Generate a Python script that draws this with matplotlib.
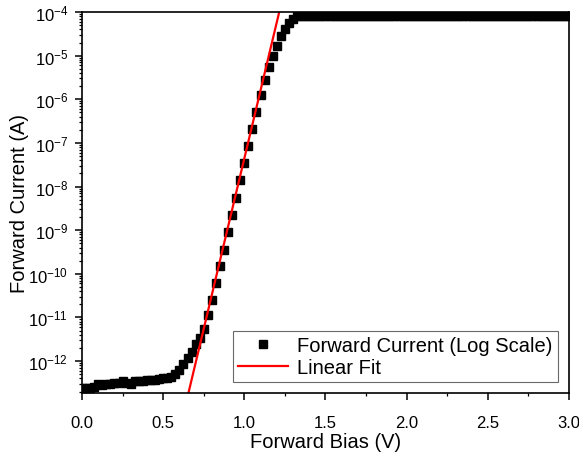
import numpy as np
import matplotlib
matplotlib.use('Agg')
import matplotlib.pyplot as plt
from matplotlib.ticker import MultipleLocator, LogLocator, NullFormatter

plt.rcParams['font.family'] = ['Liberation Sans', 'DejaVu Sans']
plt.rcParams['mathtext.default'] = 'regular'
plt.rcParams['axes.unicode_minus'] = False

# 正向偏壓 (V)
bias_v = [
    0.000, 0.025, 0.050, 0.075, 0.100, 0.125, 0.150, 0.175, 0.200, 0.225,
    0.250, 0.275, 0.300, 0.325, 0.350, 0.375, 0.400, 0.425, 0.450, 0.475,
    0.500, 0.525, 0.550, 0.575, 0.600, 0.625, 0.650, 0.675, 0.700, 0.725,
    0.750, 0.775, 0.800, 0.825, 0.850, 0.875, 0.900, 0.925, 0.950, 0.975,
    1.000, 1.025, 1.050, 1.075, 1.100, 1.125, 1.150, 1.175, 1.200, 1.225,
    1.250, 1.275, 1.300, 1.325, 1.350, 1.375, 1.400, 1.425, 1.450, 1.475,
    1.500, 1.525, 1.550, 1.575, 1.600, 1.625, 1.650, 1.675, 1.700, 1.725,
    1.750, 1.775, 1.800, 1.825, 1.850, 1.875, 1.900, 1.925, 1.950, 1.975,
    2.000, 2.025, 2.050, 2.075, 2.100, 2.125, 2.150, 2.175, 2.200, 2.225,
    2.250, 2.275, 2.300, 2.325, 2.350, 2.375, 2.400, 2.425, 2.450, 2.475,
    2.500, 2.525, 2.550, 2.575, 2.600, 2.625, 2.650, 2.675, 2.700, 2.725,
    2.750, 2.775, 2.800, 2.825, 2.850, 2.875, 2.900, 2.925, 2.950, 2.975,
    3.000,
]

# 正向電流 (A)
current_a = [
    2.4e-13, 2.35e-13, 2.4e-13, 2.6e-13, 2.9e-13, 2.8e-13, 2.95e-13, 3.0e-13, 3.15e-13, 3.1e-13,
    3.4e-13, 3.15e-13, 3.0e-13, 3.4e-13, 3.55e-13, 3.4e-13, 3.6e-13, 3.7e-13, 3.6e-13, 3.9e-13,
    4.0e-13, 4.0e-13, 4.3e-13, 5.0e-13, 6.3e-13, 8.5e-13, 1.2e-12, 1.65e-12, 2.4e-12, 3.3e-12,
    5.4e-12, 1.12e-11, 2.45e-11, 6.0e-11, 1.48e-10, 3.6e-10, 8.9e-10, 2.2e-9, 5.6e-9, 1.4e-8,
    3.5e-8, 8.7e-8, 2.1e-7, 5.2e-7, 1.26e-6, 2.8e-6, 5.6e-6, 1.0e-5, 1.7e-5, 2.75e-5,
    4.0e-5, 5.5e-5, 6.9e-5, 7.9e-5, 8.2e-5, 8.2e-5, 8.2e-5, 8.2e-5, 8.2e-5, 8.2e-5,
    8.2e-5, 8.2e-5, 8.2e-5, 8.2e-5, 8.2e-5, 8.2e-5, 8.2e-5, 8.2e-5, 8.2e-5, 8.2e-5,
    8.2e-5, 8.2e-5, 8.2e-5, 8.2e-5, 8.2e-5, 8.2e-5, 8.2e-5, 8.2e-5, 8.2e-5, 8.2e-5,
    8.2e-5, 8.2e-5, 8.2e-5, 8.2e-5, 8.2e-5, 8.2e-5, 8.2e-5, 8.2e-5, 8.2e-5, 8.2e-5,
    8.2e-5, 8.2e-5, 8.2e-5, 8.2e-5, 8.2e-5, 8.2e-5, 8.2e-5, 8.2e-5, 8.2e-5, 8.2e-5,
    8.2e-5, 8.2e-5, 8.2e-5, 8.2e-5, 8.2e-5, 8.2e-5, 8.2e-5, 8.2e-5, 8.2e-5, 8.2e-5,
    8.2e-5, 8.2e-5, 8.2e-5, 8.2e-5, 8.2e-5, 8.2e-5, 8.2e-5, 8.2e-5, 8.2e-5, 8.2e-5,
    8.2e-5,
]

# 線性擬合的兩個端點
fit_v = [0.655, 1.215]
fit_i = [1.8e-13, 1e-4]

fig = plt.figure(figsize=(5.79, 4.60), dpi=100)
ax = fig.add_axes([0.1416, 0.1435, 0.8411, 0.8282])

ax.plot(bias_v, current_a, 's', color='black', markersize=5.8,
        label='Forward Current (Log Scale)')
ax.plot(fit_v, fit_i, '-', color='#ff0000', linewidth=1.6, label='Linear Fit')

ax.set_yscale('log')
ax.set_xlim(0, 3.0)
ax.set_ylim(1.85e-13, 1e-4)

ax.xaxis.set_major_locator(MultipleLocator(0.5))
ax.xaxis.set_minor_locator(MultipleLocator(0.25))
ax.xaxis.set_major_formatter(matplotlib.ticker.FormatStrFormatter('%.1f'))
ax.yaxis.set_major_locator(LogLocator(base=10, numticks=20))
ax.yaxis.set_minor_locator(LogLocator(base=10, subs=np.arange(2, 10), numticks=20))
ax.yaxis.set_minor_formatter(NullFormatter())

ax.tick_params(which='major', direction='out', length=5, width=1.1, labelsize=12,
               top=False, right=False, pad=5)
ax.tick_params(axis='x', which='major', pad=11)
ax.tick_params(which='minor', direction='out', length=2.5, width=0.9,
               top=False, right=False)
for s in ax.spines.values():
    s.set_linewidth(1.2)

ax.set_xlabel('Forward Bias (V)', fontsize=14.5, labelpad=1)
ax.set_ylabel('Forward Current (A)', fontsize=14.5, labelpad=-1)

leg = ax.legend(loc='lower right', bbox_to_anchor=(0.977, 0.029), borderaxespad=0,
                fontsize=14.5, frameon=True, fancybox=False, edgecolor='#444444',
                handlelength=2.5, handletextpad=0.45, borderpad=0.25, labelspacing=0.15)
leg.get_frame().set_linewidth(0.8)

plt.savefig('out.png', dpi=100)
